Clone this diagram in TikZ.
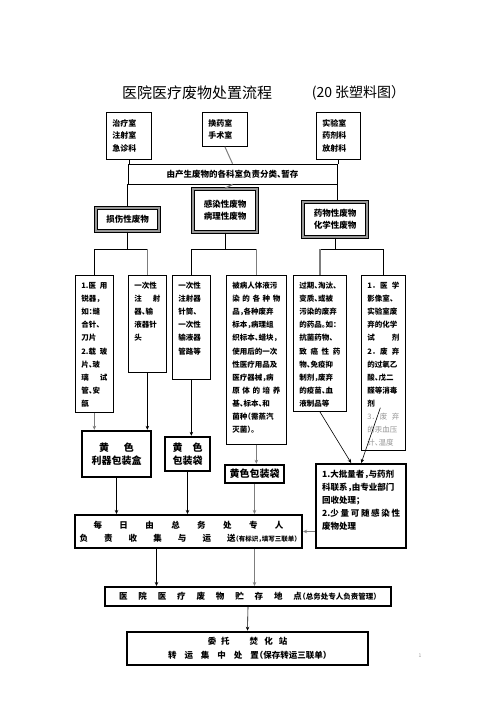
\documentclass[tikz,border=0pt]{standalone}
\usepackage{fontspec}
\usepackage{xcolor}
\usepackage{tikz}
\usetikzlibrary{arrows.meta, positioning, calc}
\setmainfont{Noto Sans CJK SC}[RawFeature=+halt]
\definecolor{FlowGray}{RGB}{125, 125, 125}
\definecolor{FlowMuted}{RGB}{150, 150, 150}
\newcommand{\colpar}[3]{\parbox[c][#2][t]{#1}{\strut#3}}
\newcommand{\spread}[1]{\makebox[\linewidth][s]{#1}}

\tikzset{
  wbox/.style={draw, line width=0.7pt, inner sep=0pt, font=\bfseries\fontsize{8}{12.5}\selectfont},
  topbox/.style={wbox, anchor=north west, inner xsep=6pt, align=left},
  colbox/.style={draw, line width=0.7pt, inner xsep=6pt, inner ysep=4pt, anchor=north west,
                 font=\bfseries\fontsize{7.5}{13.1}\selectfont},
  catbox/.style={draw, line width=1.2pt, double=FlowGray!80, double distance=1.4pt, align=center,
                 font=\bfseries\fontsize{8.5}{12}\selectfont},
  heavybox/.style={draw, line width=2.4pt, align=center, inner sep=0pt,
                   font=\bfseries\fontsize{10}{13}\selectfont},
  flow/.style={line width=0.6pt},
  flowgray/.style={draw=FlowGray, line width=1.4pt},
  tip/.style={-{Stealth[length=4pt, width=3.5pt]}}
}

\begin{document}
\begin{tikzpicture}[x=1pt, y=-1pt]
    \useasboundingbox (0,0) rectangle (496,702);

    \node[font=\fontsize{15}{18}\selectfont] (title) at (197,93) {医院医疗废物处置流程};
    \node[font=\fontsize{14}{18}\selectfont] (titlenote) at (355,93) {(20 张塑料图）};

    \node[topbox, text width=33pt, minimum height=47pt] (ward) at (106,112) {治疗室\\注射室\\急诊科};
    \node[topbox, text width=33pt, minimum height=34pt] (dress) at (202,112) {换药室\\手术室};
    \node[topbox, text width=32pt, minimum height=47pt] (lab) at (316,112) {实验室\\药剂科\\放射科};

    \node[wbox, minimum width=209pt, minimum height=20pt, font=\bfseries\fontsize{8.5}{10}\selectfont]
      (sort) at (232.5,174) {由产生废物的各科室负责分类、暂存};

    \node[catbox, minimum width=63pt, minimum height=23pt] (sharp) at (127.5,219.5) {损伤性废物};
    \node[catbox, minimum width=64pt, minimum height=43pt] (infect) at (225,210.5) {感染性废物\\病理性废物};
    \node[catbox, minimum width=64pt, minimum height=35pt] (chem) at (335,219.5) {药物性废物\\化学性废物};

    \coordinate (forkrow) at (0,249);

    \node[colbox] (sharpitems) at (75,275) {\colpar{26pt}{129pt}{%
      \spread{1.医 用}\\锐器，\\如：缝\\合针、\\刀片\\\spread{2.载 玻}\\片、玻\\\spread{璃 试}\\管、安\\瓿}};
    \node[colbox] (needles) at (128,275) {\colpar{26pt}{89pt}{%
      一次性\\\spread{注 射}\\器、输\\液器针\\头}};
    \node[colbox] (syringes) at (172,275) {\colpar{26pt}{96pt}{%
      一次性\\注射器\\针筒、\\一次性\\输液器\\管路等}};
    \node[colbox] (infitems) at (226,275) {\colpar{48pt}{161pt}{%
      被病人体液污\\\spread{染 的 各 种 物}\\品，各种废弃\\标本，病理组\\织标本、蜡块，\\使用后的一次\\性医疗用品及\\医疗器械，病\\\spread{原 体 的 培 养}\\基、标本、和\\菌种（需蒸汽\\灭菌）。}};
    \node[colbox] (drugitems) at (293,275) {\colpar{41pt}{128pt}{%
      过期、淘汰、\\变质、或被\\污染的废弃\\的药品。如：\\抗菌药物、\\\spread{致 癌 性 药}\\物、免疫抑\\制剂，废弃\\的疫苗、血\\液制品等}};
    \node[colbox] (chemitems) at (361,275) {\colpar{32pt}{167pt}{%
      \spread{1． 医 学}\\影像室、\\实验室废\\弃的化学\\\spread{试 剂}\\\spread{2． 废 弃}\\的过氧乙\\酸、戊二\\醛等消毒\\剂\\%
      {\mdseries\color{FlowMuted}\spread{3． 废 弃}\\的汞血压\\计、温度}}};

    \node[heavybox, minimum width=69pt, minimum height=46pt] (sharpcase) at (116.5,454) {黄\hspace{1.5em}色\\利器包装盒};
    \node[heavybox, minimum width=45pt, minimum height=34pt] (bagsmall) at (187.5,454) {黄\hspace{1em}色\\包装袋};
    \node[heavybox, minimum width=59pt, minimum height=18pt] (bagwide) at (254.5,474) {黄色包装袋};
    \node[heavybox, inner xsep=6pt, inner ysep=4pt, anchor=north west, font=\bfseries\fontsize{8.5}{13}\selectfont]
      (bulk) at (315,463) {\colpar{78pt}{76pt}{%
      1.大批量者，与药剂\\科联系，由专业部门\\回收处理；\\\spread{2.少 量 可 随 感 染 性}\\废物处理}};

    \node[heavybox, line width=2pt, minimum width=227pt, minimum height=33pt, font=\bfseries\fontsize{8.5}{13}\selectfont]
      (collect) at (188.5,531.5) {\makebox[190pt][s]{每 日 由 总 务 处 专 人}\\
      \makebox[218pt][s]{负 责 收 集 与 运 送{\fontsize{6.5}{8}\selectfont（有标识，填写三联单）}}};
    \node[heavybox, line width=2pt, minimum width=286pt, minimum height=19pt, font=\bfseries\fontsize{8.5}{10}\selectfont]
      (store) at (248,596.5) {\makebox[258pt][s]{医 院 医 疗 废 物 贮 存 地 点{\fontsize{7.5}{9}\selectfont（总务处专人负责管理）}}};
    \node[heavybox, line width=2.6pt, minimum width=241pt, minimum height=33pt, font=\bfseries\fontsize{8.5}{13.5}\selectfont]
      (transfer) at (247.5,648.5) {委\hspace{5pt}托\hspace{20pt}焚\hspace{6pt}化\hspace{6pt}站\\
      转\hspace{8pt}运\hspace{8pt}集\hspace{8pt}中\hspace{8pt}处\hspace{8pt}置（保存转运三联单）};

    \node[font=\fontsize{5}{6}\selectfont, text=FlowMuted] (pagenum) at (420,656) {1};

    \draw[flow] (ward.south) -- (ward.south |- sort.north);
    \draw[flowgray, line width=1pt] (dress.south) -- (sort.north);
    \draw[flow] (lab.south) -- (lab.south |- sort.north);
    \draw[flow] (sort.south west) -- (sort.south west |- sharp.north);
    \draw[flowgray] (sort.south) -- (infect.north);
    \draw[flow] (sort.south east) -- (sort.south east |- chem.north);

    \draw[flow] (sharp.south) -- (sharp.south |- forkrow);
    \draw[flow] (forkrow -| sharpitems.north) -- (forkrow -| needles.north);
    \draw[flow] (forkrow -| sharpitems.north) -- (sharpitems.north);
    \draw[flowgray] (forkrow -| needles.north) -- (needles.north);
    \draw[flow] (infect.south) -- (infect.south |- forkrow);
    \draw[flow] (forkrow -| syringes.north) -- (forkrow -| infitems.north);
    \draw[flow] (forkrow -| syringes.north) -- (syringes.north);
    \draw[flowgray] (forkrow -| infitems.north) -- (infitems.north);
    \draw[flow] (chem.south) -- (chem.south |- forkrow);
    \draw[flow] (forkrow -| drugitems.north) -- (forkrow -| chemitems.north);
    \draw[flowgray] (forkrow -| drugitems.north) -- (drugitems.north);
    \draw[flow] (forkrow -| chemitems.north) -- (chemitems.north);

    \draw[flowgray, tip] (sharpitems.south) -- (sharpitems.south |- sharpcase.north);
    \draw[flow, tip] (needles.south) -- (needles.south |- sharpcase.north);
    \draw[flow, tip] (syringes.south) -- (syringes.south |- bagsmall.north);
    \draw[flowgray, tip] (infitems.south) -- (infitems.south |- bagwide.north);
    \draw[flow, tip] (drugitems.south) -- ([xshift=-10pt]bulk.north);
    \draw[flow, tip] ([shift={(-3,-43)}]chemitems.south) -- (bulk.north);

    \draw[flow, tip] (sharpcase.south) -- (sharpcase.south |- collect.north);
    \draw[flow, tip] (bagsmall.south) -- (bagsmall.south |- collect.north);
    \draw[flowgray, tip] (bagwide.south) -- (bagwide.south |- collect.north);
    \draw[flowgray, tip] (bulk.west |- collect.east) -- (collect.east);
    \draw[flow, tip] ([xshift=-32pt]collect.south) -- ([xshift=-32pt]collect.south |- store.north);
    \draw[flowgray, tip] (bagwide.south |- collect.south) -- (bagwide.south |- store.north);
    \draw[flow, tip] (store.south) -- (transfer.north);
\end{tikzpicture}
\end{document}
